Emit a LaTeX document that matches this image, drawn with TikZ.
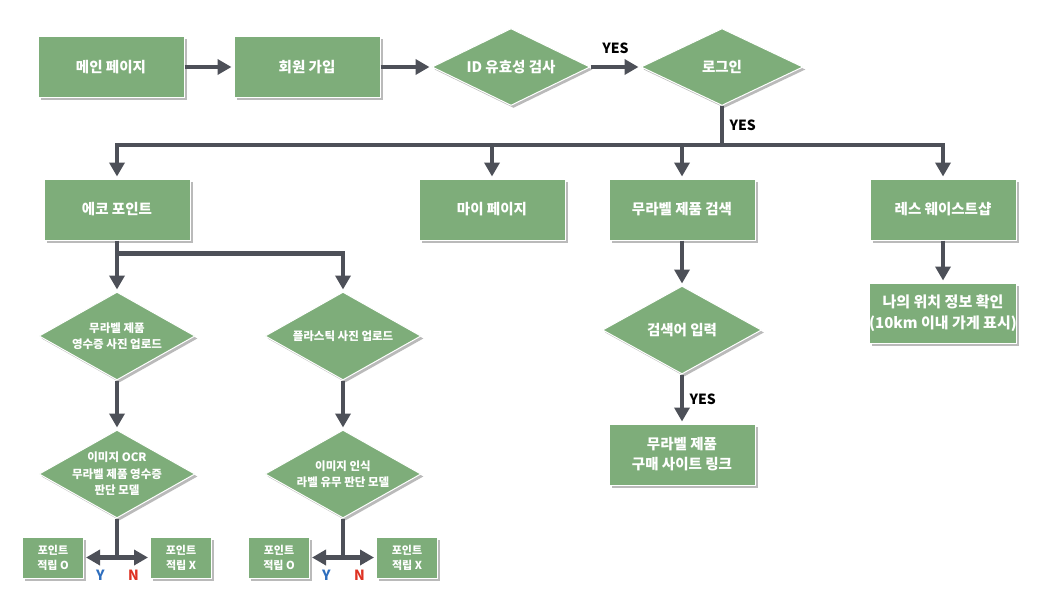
\documentclass[tikz,border=0pt]{standalone}
\usepackage{fontspec}
\setmainfont{Noto Sans CJK KR}
\usetikzlibrary{arrows.meta,positioning,shapes.geometric,shadows}
\definecolor{leafgreen}{RGB}{126,173,122}
\definecolor{arrowgray}{RGB}{77,80,88}
\definecolor{yesblue}{RGB}{46,110,190}
\definecolor{nored}{RGB}{222,50,35}

\begin{document}
\begin{tikzpicture}[
	x = 1pt, y = -1pt, % pixel grid of the reference
	> = {Triangle[width=15pt,length=14pt]}, % arrow head style
	shorten > = 2pt, % don't touch arrow head to node
	line width = 4.5pt, % line style
	arrowgray,
	B/.style={rectangle, draw=white, line width=1pt, fill=leafgreen, text=white, minimum width=146pt, minimum height=61pt, align=center, font=\bfseries\fontsize{14.5}{20}\selectfont, drop shadow={shadow xshift=2.5pt, shadow yshift=-2.5pt, fill=black!45, opacity=.6}},
	S/.style={B, minimum width=61pt, minimum height=41pt, font=\bfseries\fontsize{11}{15}\selectfont},
	D/.style={B, diamond, aspect=2, inner sep=-6pt, minimum width=156pt, minimum height=88pt, font=\bfseries\fontsize{11.5}{16.5}\selectfont},
	L/.style={text=black, font=\bfseries\fontsize{14}{16}\selectfont},
	]
	\useasboundingbox (0,0) rectangle (1059,589);

	% Top row
	% Nodes and their relative positions
	\node[B] (main) at (111,67) {메인 페이지};
	\node[B] (signup) [right = 49pt of main] {회원 가입};
	\node[D] (idcheck) [right = 51pt of signup, minimum width=158pt, minimum height=77pt, font=\bfseries\fontsize{14.5}{20}\selectfont] {ID 유효성 검사};
	\node[D] (login) [right = 50pt of idcheck, minimum width=162pt, minimum height=77pt, font=\bfseries\fontsize{14.5}{20}\selectfont] {로그인};
	\coordinate[below = 39pt of login.south] (bar);
	% Paths connecting nodes
	\path[->] (main) edge (signup);
	\path[->] (signup) edge (idcheck);
	\path[->] (idcheck) edge node[L, above = 8pt] {YES} (login);
	\draw (login) -- (bar) node[L, midway, right = 2pt] {YES};

	% Menu row
	\node[B] (eco) at (117,209.5) {에코 포인트};
	\node[B] (mypage) [right = 228pt of eco] {마이 페이지};
	\node[B] (search) [right = 43pt of mypage] {무라벨 제품 검색};
	\node[B] (shop) [right = 114pt of search] {레스 웨이스트샵};
	\draw[->] (bar) -| (eco);
	\draw[->] (bar) -| (mypage);
	\draw[->] (bar) -| (search);
	\draw[->] (bar) -| (shop);

	% Eco point branch
	\coordinate[below = 13pt of eco.south] (split);
	\node[D] (receipt) [below = 51pt of eco] {무라벨 제품\\영수증 사진 업로드};
	\node[D] (plastic) [right = 69pt of receipt] {플라스틱 사진 업로드};
	\node[D] (ocr) [below = 49pt of receipt] {이미지 OCR\\무라벨 제품 영수증\\판단 모델};
	\node[D] (vision) [below = 49pt of plastic] {이미지 인식\\라벨 유무 판단 모델};
	\path[->] (eco) edge (receipt);
	\draw[->] (split) -| (plastic);
	\path[->] (receipt) edge (ocr);
	\path[->] (plastic) edge (vision);

	\coordinate[below = 39pt of ocr.south] (yn1);
	\coordinate[below = 39pt of vision.south] (yn2);
	\node[S] (okA) [left = 33pt of yn1] {포인트\\적립 O};
	\node[S] (noA) [right = 33pt of yn1] {포인트\\적립 X};
	\node[S] (okB) [left = 33pt of yn2] {포인트\\적립 O};
	\node[S] (noB) [right = 33pt of yn2] {포인트\\적립 X};
	\draw (ocr) -- (yn1);
	\draw (vision) -- (yn2);
	\draw[->] (yn1) -- (okA) node[L, midway, below = 7pt, text=yesblue] {Y};
	\draw[->] (yn1) -- (noA) node[L, midway, below = 7pt, text=nored] {N};
	\draw[->] (yn2) -- (okB) node[L, midway, below = 7pt, text=yesblue] {Y};
	\draw[->] (yn2) -- (noB) node[L, midway, below = 7pt, text=nored] {N};

	% Search branch
	\node[D] (keyword) [below = 45pt of search, minimum width=159pt, font=\bfseries\fontsize{14.5}{20}\selectfont] {검색어 입력};
	\node[B] (link) [below = 49pt of keyword] {무라벨 제품\\구매 사이트 링크};
	\path[->] (search) edge (keyword);
	\path[->] (keyword) edge node[L, right = 2pt] {YES} (link);

	% Shop branch
	\node[B] (location) [below = 42pt of shop, minimum height=60pt, inner xsep=0pt, font=\bfseries\fontsize{15}{21}\selectfont] {나의 위치 정보 확인\\(10km 이내 가게 표시)};
	\path[->] (shop) edge (location);

\end{tikzpicture}
\end{document}
